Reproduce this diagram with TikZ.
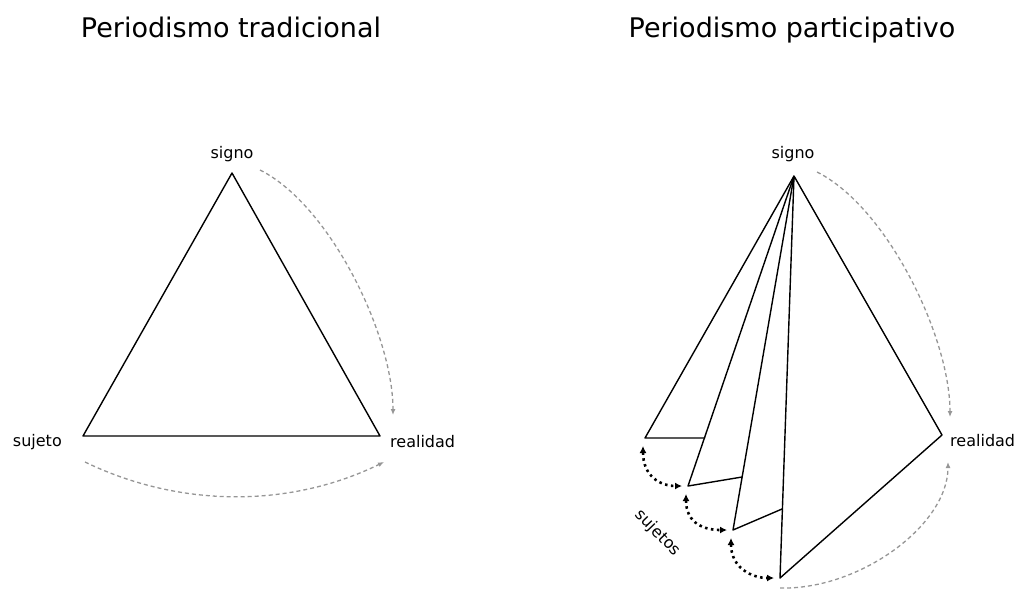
\documentclass[tikz,border=0pt]{standalone}
\usepackage{fontspec}
\setmainfont{DejaVu Sans}
\usetikzlibrary{arrows.meta,calc,positioning}

\definecolor{flowgray}{RGB}{150,150,150}

\begin{document}
\begin{tikzpicture}
[
	                x = 1pt,
	                y = -1pt,
	    title/.style = { draw=none, inner sep=0pt, anchor=base, font=\fontsize{27}{30}\selectfont },
	    label/.style = { draw=none, inner sep=0pt, font=\fontsize{16}{19}\selectfont },
	     side/.style = { draw=black, line width=1.4pt, line join=round },
	     flow/.style = { draw=flowgray, line width=1.3pt, dash pattern=on 4pt off 3pt,
	                     -{Latex[length=6pt,width=5pt]} },
	   subflow/.style = { draw=black, line width=2.6pt, dash pattern=on 2.5pt off 3.5pt,
	                     {Latex[length=7pt,width=7pt]}-{Latex[length=7pt,width=7pt]} }
]

    \useasboundingbox (0,0) rectangle (1016,590);

    % traditional
    \node (TTitle)        at (231, 37) [title]                  {Periodismo tradicional};

    \coordinate (TSigno)    at (232,173);
    \coordinate (TSujeto)   at ( 83,436);
    \coordinate (TRealidad) at (380,436);

    \node (TSignoLabel)    at (232,158) [label, anchor=base]      {signo};
    \node (TSujetoLabel)   at ( 62,446) [label, anchor=base east] {sujeto};
    \node (TRealidadLabel) at (390,447) [label, anchor=base west] {realidad};

    \draw [side] (TSigno) -- (TSujeto) -- (TRealidad) -- cycle;

    \coordinate (TFlowA) at (260,170);
    \coordinate (TFlowB) at (393,415);
    \coordinate (TFlowC) at ( 85,462);
    \coordinate (TFlowD) at (384,462);

    \draw [flow] (TFlowA) .. controls (330,205) and (393,335) .. (TFlowB);
    \draw [flow] (TFlowC) .. controls (180,508) and (290,508) .. (TFlowD);


    % participative
    \node (PTitle)        at (792, 37) [title]                  {Periodismo participativo};

    \coordinate (PSigno)    at (794,176);
    \coordinate (PRealidad) at (942,435);
    \coordinate (PSujetoA)  at (645,438);
    \coordinate (PSujetoB)  at (688,486);
    \coordinate (PSujetoC)  at (733,530);
    \coordinate (PSujetoD)  at (780,578);
    \coordinate (PFoldA)    at (705,438);
    \coordinate (PFoldB)    at (742,477);
    \coordinate (PFoldC)    at (782,509);

    \node (PSignoLabel)    at (793,158) [label, anchor=base]      {signo};
    \node (PRealidadLabel) at (950,446) [label, anchor=base west] {realidad};
    \node (PSujetosLabel)  at (658,533) [label, rotate=-46]        {sujetos};

    \draw [side] (PSigno) -- (PSujetoA) -- (PFoldA);
    \draw [side] (PSigno) -- (PSujetoB) -- (PFoldB);
    \draw [side] (PSigno) -- (PSujetoC) -- (PFoldC);
    \draw [side] (PSigno) -- (PSujetoD) -- (PRealidad) -- cycle;

    \coordinate (PFlowA) at (817,172);
    \coordinate (PFlowB) at (950,417);
    \coordinate (PFlowC) at (780,588);
    \coordinate (PFlowD) at (948,462);

    \draw [flow] (PFlowA) .. controls (887,207) and (950,337) .. (PFlowB);
    \draw [flow] (PFlowC) .. controls (860,590) and (948,525) .. (PFlowD);

    \draw [subflow] ($(PSujetoA)+(-2,8)$) .. controls +(0,30) and +(-22,0) .. ($(PSujetoB)+(-6,0)$);
    \draw [subflow] ($(PSujetoB)+(-2,8)$) .. controls +(0,30) and +(-22,0) .. ($(PSujetoC)+(-6,0)$);
    \draw [subflow] ($(PSujetoC)+(-2,8)$) .. controls +(0,30) and +(-22,0) .. ($(PSujetoD)+(-6,0)$);

\end{tikzpicture}
\end{document}
